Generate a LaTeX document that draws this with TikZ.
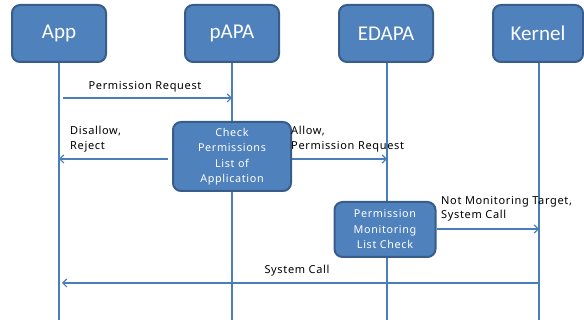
\documentclass[tikz,border=0pt]{standalone}
\usepackage{fontspec}
\setmainfont[LetterSpace=6]{Noto Sans}
\newfontfamily\hdrfont{Carlito}
\usetikzlibrary{arrows.meta}
\definecolor{boxfill}{HTML}{4F81BD}
\definecolor{boxline}{HTML}{385D8A}
\definecolor{lifeline}{HTML}{4A7EBB}
\tikzset{
  hdr/.style={draw=boxline, fill=boxfill, line width=2pt, rounded corners=8pt,
    minimum width=94pt, minimum height=57pt, text=white, font=\hdrfont\fontsize{21}{24}\selectfont, inner sep=0pt},
  proc/.style={draw=boxline, fill=boxfill, line width=2pt, rounded corners=8pt,
    text=white, align=center, font=\fontsize{10.8}{15.5}\selectfont, inner sep=0pt},
  life/.style={draw=lifeline, line width=1.2pt},
  msg/.style={draw=lifeline, line width=1.2pt, -{Straight Barb[length=4pt,width=8pt]}},
  lbl/.style={font=\fontsize{11}{14.5}\selectfont, align=left, inner sep=0pt, text=black}
}
\begin{document}
\begin{tikzpicture}[x=1pt,y=-1pt]
\useasboundingbox (0,0) rectangle (584,320);
% lifeline bottoms
\coordinate (appB) at (59,320);
\coordinate (papaB) at (232,320);
\coordinate (edapaB) at (387,320);
\coordinate (kernB) at (539,320);
% headers
\node[hdr] (app) at (59,33.5) {App};
\node[hdr] (papa) at (232,33.5) {pAPA};
\node[hdr] (edapa) at (386,33.5) {EDAPA};
\node[hdr, minimum width=90pt] (kern) at (538,33.5) {Kernel};
\draw[life] (app.south -| appB) -- (appB);
\draw[life] (papa.south -| papaB) -- (papaB);
\draw[life] (edapa.south -| edapaB) -- (edapaB);
\draw[life] (kern.south -| kernB) -- (kernB);
% process boxes
\node[proc, minimum width=118pt, minimum height=69pt] (check) at (232,156.5) {Check\\Permissions\\List of\\Application};
\node[proc, minimum width=101pt, minimum height=55pt] (mon) at (385,229.5) {Permission\\Monitoring\\List Check};
% y levels
\coordinate (y1) at (0,98);
\coordinate (y2) at (0,159);
\coordinate (y3) at (0,229);
\coordinate (y4) at (0,283);
% messages
\coordinate (m1s) at (63,98);
\draw[msg] (m1s) -- (papaB |- y1);
\node[lbl, anchor=base] (l1) at (145,90) {Permission Request};
\coordinate (m2s) at (168,159);
\draw[msg] (m2s) -- (appB |- y2);
\node[lbl, anchor=north west] (l2) at (70,126) {Disallow,\\Reject};
\draw[msg] (check.east |- y2) -- (edapaB |- y2);
\node[lbl, anchor=north west] (l3) at (291,126) {Allow,\\Permission Request};
\draw[msg] (mon.east |- y3) -- (kernB |- y3);
\node[lbl, anchor=north west] (l4) at (441,196) {Not Monitoring Target,\\System Call};
\coordinate (m5e) at (62,283);
\draw[msg] (kernB |- y4) -- (m5e);
\node[lbl, anchor=base] (l5) at (297,274) {System Call};
\end{tikzpicture}
\end{document}
